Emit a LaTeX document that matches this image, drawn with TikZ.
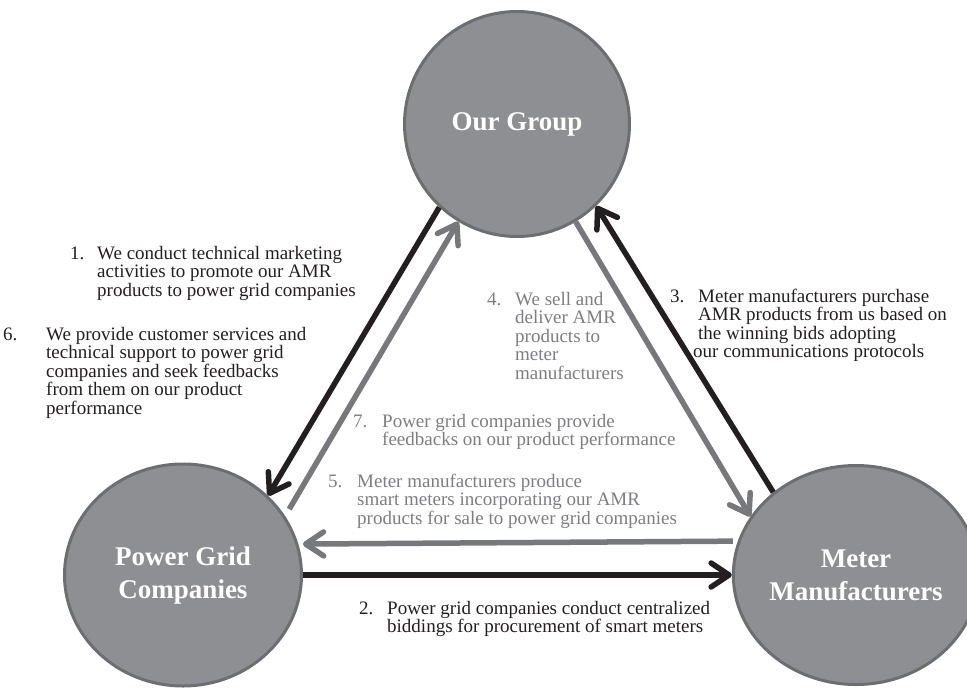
\documentclass[tikz,border=0pt]{standalone}
\usepackage{fontspec}
\setmainfont{Liberation Serif}
\usetikzlibrary{shapes.geometric,arrows.meta}
\definecolor{blk}{HTML}{231F20}
\definecolor{gry}{HTML}{77787B}
\definecolor{gtext}{HTML}{7D7E81}
\definecolor{cfill}{HTML}{8E8F92}
\definecolor{cdraw}{HTML}{6D6E71}
\begin{document}
\begin{tikzpicture}[x=1pt,y=-1pt,
  hub/.style={ellipse, draw=cdraw, fill=cfill, line width=3pt, inner sep=0pt,
    text=white, align=center, font=\fontsize{27}{33}\selectfont\bfseries},
  barb/.style={-{Straight Barb[length=18pt,width=24pt,round]}},
  blkarr/.style={draw=blk, line width=5.5pt, barb},
  gryarr/.style={draw=gry, line width=5.5pt, barb},
  lbl/.style={anchor=base west, inner sep=0pt, align=left, text=blk,
    font=\fontsize{19}{18.5}\selectfont},
  glbl/.style={lbl, text=gtext}]
\useasboundingbox (0,0) rectangle (967,689);
% hubs
\node[hub, minimum width=225pt, minimum height=225pt] (og) at (517,124) {Our Group};
\node[hub, minimum width=237pt, minimum height=222pt] (pg) at (183,575) {Power Grid\\Companies};
\node[hub, minimum width=223pt, minimum height=219pt] (mm) at (856,575) {Meter\\Manufacturers};
% connectors
\draw[blkarr] (og.227) -- (pg.43);
\draw[gryarr, shorten <=8pt] (pg.30) -- (og.239);
\draw[gryarr] (og.301) -- (mm.151);
\draw[blkarr] (mm.135) -- (og.314);
\draw[gryarr, shorten <=5pt, shorten >=4.5pt] (mm.164) -- (pg.15);
\draw[blkarr] (pg.east) -- (mm.west);
% labels (y = baseline of the last line)
\node[lbl] (n1) at (70,259) {1.};
\node[lbl] (t1) at (97,296) {We conduct technical marketing\\activities to promote our AMR\\products to power grid companies};
\node[lbl] (n6) at (3,340) {6.};
\node[lbl] (t6) at (46,414) {We provide customer services and\\technical support to power grid\\companies and seek feedbacks\\from them on our product\\performance};
\node[lbl] (n3) at (670,302) {3.};
\node[lbl] (t3) at (698,357.5) {Meter manufacturers purchase\\AMR products from us based on\\the winning bids adopting\\\hspace*{-5pt}our communications protocols};
\node[glbl] (n4) at (487,305) {4.};
\node[glbl] (t4) at (515,379) {We sell and\\deliver AMR\\products to\\meter\\manufacturers};
\node[glbl] (n7) at (353,427) {7.};
\node[glbl] (t7) at (382,445.5) {Power grid companies provide\\feedbacks on our product performance};
\node[glbl] (n5) at (328,487) {5.};
\node[glbl] (t5) at (357,524) {Meter manufacturers produce\\smart meters incorporating our AMR\\products for sale to power grid companies};
\node[lbl] (n2) at (359,614) {2.};
\node[lbl] (t2) at (387,632.5) {Power grid companies conduct centralized\\biddings for procurement of smart meters};
\end{tikzpicture}
\end{document}
